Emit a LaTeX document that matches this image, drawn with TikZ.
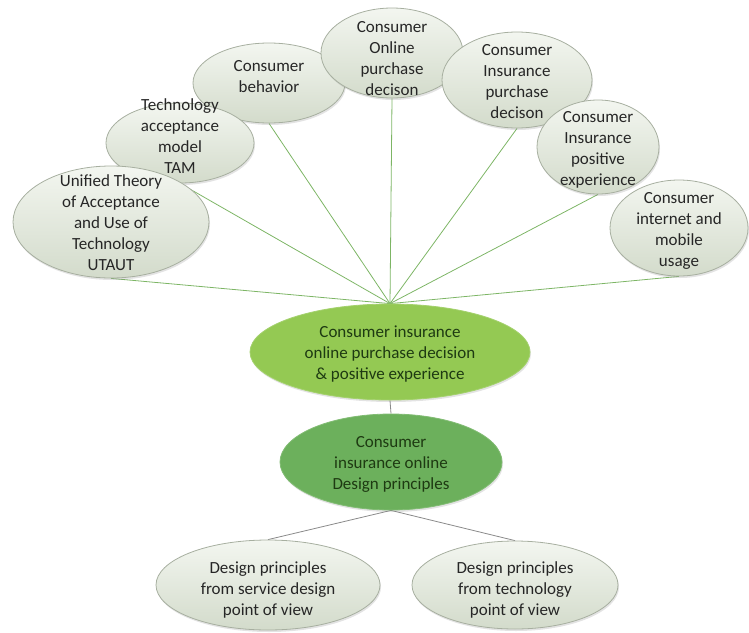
\documentclass[tikz,border=0pt]{standalone}
\usepackage{fontspec}
\setmainfont{Carlito}
\usetikzlibrary{shapes,positioning,backgrounds,shadows}

\definecolor{topictop}{HTML}{F3F6F0}
\definecolor{topicbot}{HTML}{D3DBCB}
\definecolor{topicline}{HTML}{A7AFA0}
\definecolor{coregreen}{HTML}{94C953}
\definecolor{designgreen}{HTML}{6CB05C}
\definecolor{darktext}{HTML}{1E3A12}
\definecolor{spokegreen}{HTML}{7DB565}
\definecolor{linkgrey}{HTML}{8A8A8A}

% text of an oval, kept out of the oval's size; optional raise
\newcommand{\ovaltext}[2][0pt]{\smash{\raisebox{\dimexpr#1-7pt\relax}{\begin{tabular}{@{}c@{}}#2\end{tabular}}}}

\begin{document}
\begin{tikzpicture}[
        x=1pt, y=-1pt,
        font=\fontsize{17}{21}\selectfont,
        oval/.style={
            ellipse,
            inner sep=0pt,
            line width=0.8pt,
            drop shadow={opacity=0.22, shadow xshift=1pt, shadow yshift=-2pt}
        },
        topic/.style={
            oval,
            draw=topicline,
            top color=topictop,
            bottom color=topicbot,
            text=black!85
        },
        core/.style={
            oval,
            draw=coregreen!85!white,
            fill=coregreen,
            text=darktext
        },
        design/.style={
            oval,
            draw=designgreen!85!white,
            fill=designgreen,
            text=darktext
        },
        spoke/.style={
            draw=spokegreen,
            line width=0.8pt
        },
        link/.style={
            draw=linkgrey,
            line width=0.8pt
        }
    ]
    \useasboundingbox (0,0) rectangle (749,632);
    % Theory and context topics
    \node[topic, minimum width=152, minimum height=80] (behavior) at (269,83) {\ovaltext[8pt]{Consumer\\behavior}};
    \node[topic, minimum width=148, minimum height=80] (tam) at (180,143) {\ovaltext[8pt]{Technology\\acceptance\\model\\TAM}};
    \node[topic, minimum width=196, minimum height=112] (utaut) at (111,222) {\ovaltext{Unified Theory\\of Acceptance\\and Use of\\Technology\\UTAUT}};
    \node[topic, minimum width=142, minimum height=90] (online_buy) at (392,53) {\ovaltext[-4pt]{Consumer\\Online\\purchase\\decison}};
    \node[topic, minimum width=150, minimum height=96] (ins_buy) at (517,80) {\ovaltext{Consumer\\Insurance\\purchase\\decison}};
    \node[topic, minimum width=122, minimum height=94] (ins_exp) at (598,147) {\ovaltext{Consumer\\Insurance\\positive\\experience}};
    \node[topic, minimum width=138, minimum height=96] (net_use) at (679,228) {\ovaltext{Consumer\\internet and\\mobile\\usage}};
    % Core nodes
    \node[core, minimum width=280, minimum height=96] (decision) at (390,352) {\ovaltext{Consumer insurance\\online purchase decision\\\& positive experience}};
    \node[design, minimum width=222, minimum height=96] (principles) at (391,462) {\ovaltext{Consumer\\insurance online\\Design principles}};
    % Design viewpoints
    \node[topic, minimum width=224, minimum height=90] (service_view) at (268,585) {\ovaltext[-3pt]{Design principles\\from service design\\point of view}};
    \node[topic, minimum width=206, minimum height=88] (tech_view) at (515,585) {\ovaltext[-3pt]{Design principles\\from technology\\point of view}};

    % Connections
    \begin{pgfonlayer}{background}
        \foreach \t in {utaut,tam,behavior,online_buy,ins_buy,ins_exp,net_use}
            \draw[spoke] (decision.north) -- (\t.south);
        \draw[link] (decision.south) -- (principles.north);
        \draw[link] (principles.south) -- (service_view.north);
        \draw[link] (principles.south) -- (tech_view.north);
    \end{pgfonlayer}
\end{tikzpicture}
\end{document}
